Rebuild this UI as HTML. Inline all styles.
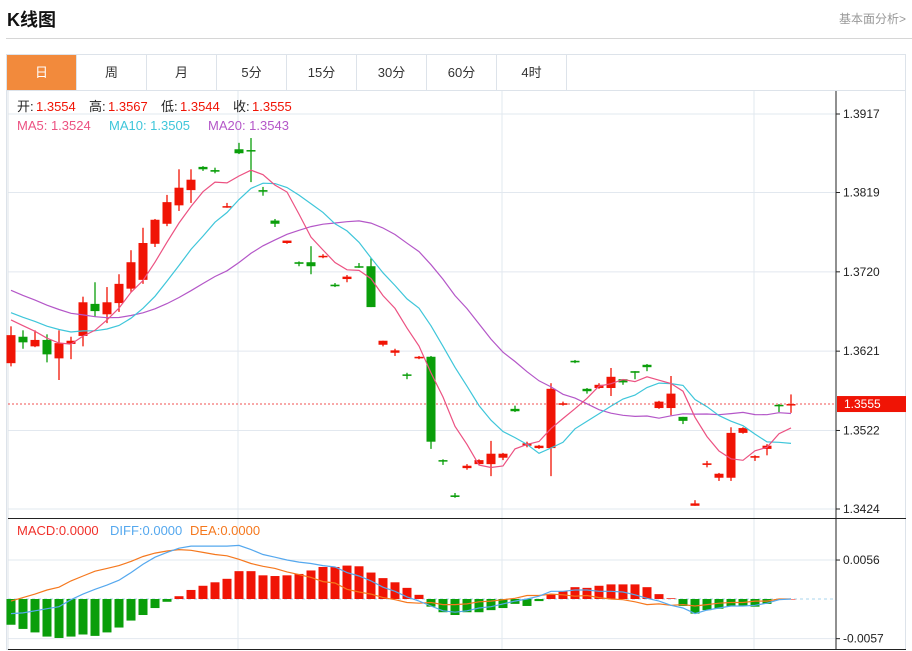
<!DOCTYPE html>
<html><head><meta charset="utf-8">
<style>
body{margin:0;width:912px;height:651px;background:#fff;overflow:hidden;font-family:"Liberation Sans","Noto Sans CJK SC",sans-serif;}
#title{position:absolute;left:7px;top:6px;font-size:18px;font-weight:bold;color:#111;}
#fund{position:absolute;right:6px;top:10px;font-size:12px;color:#999;}
#hline{position:absolute;left:6px;top:38px;width:906px;height:1px;background:#d6d6d6;}
.tab{position:absolute;top:55px;height:35px;line-height:35px;width:70px;text-align:center;font-size:13px;color:#333;border-right:1px solid #dde3ea;box-sizing:border-box;}
svg{position:absolute;left:0;top:0;}
</style></head><body>
<div id="title">K线图</div>
<div id="fund">基本面分析&gt;</div>
<div id="hline"></div>
<div style="position:absolute;left:6px;top:54px;width:900px;height:596px;border:1px solid #dde3ea;box-sizing:border-box;"></div>
<div class="tab" style="left:7px;background:#f28a3c;color:#fff;">日</div>
<div class="tab" style="left:77px;">周</div>
<div class="tab" style="left:147px;">月</div>
<div class="tab" style="left:217px;">5分</div>
<div class="tab" style="left:287px;">15分</div>
<div class="tab" style="left:357px;">30分</div>
<div class="tab" style="left:427px;">60分</div>
<div class="tab" style="left:497px;">4时</div>
<div style="position:absolute;left:6px;top:90px;width:900px;height:1px;background:#dde3ea;"></div>
<svg id="chart" width="912" height="651"></svg>
<script>
const opens =[13606,13639,13627,13635,13612,13630,13640,13680,13667,13681,13699,13710,13755,13780,13803,13822,13851,13847,13801,13873,13872,13822,13784,13756,13732,13732,13739,13704,13711,13727,13727,13629,13619,13592,13612,13614,13485,13441,13475,13480,13480,13488,13549,13503,13500,13500,13554,13609,13574,13575,13575,13586,13596,13604,13550,13550,13539,13428,13479,13463,13463,13519,13488,13499,13554,13554];
const closes=[13641,13632,13635,13617,13631,13634,13682,13671,13682,13705,13732,13756,13785,13807,13825,13835,13848,13845,13802,13868,13871,13820,13780,13759,13730,13727,13740,13702,13714,13726,13676,13634,13622,13591,13614,13508,13484,13439,13478,13485,13493,13493,13546,13506,13503,13574,13556,13607,13571,13579,13589,13582,13594,13601,13558,13568,13534,13431,13481,13468,13519,13525,13490,13503,13553,13555];
const highs =[13652,13647,13647,13642,13647,13639,13689,13707,13701,13717,13747,13775,13786,13816,13848,13848,13852,13850,13806,13881,13887,13826,13786,13759,13733,13752,13742,13706,13716,13731,13737,13634,13624,13594,13615,13615,13486,13444,13480,13486,13509,13494,13553,13508,13504,13581,13558,13610,13575,13581,13600,13586,13596,13605,13559,13590,13539,13435,13484,13469,13526,13526,13491,13505,13555,13567];
const lows  =[13602,13624,13626,13607,13585,13611,13627,13664,13656,13670,13695,13705,13751,13777,13796,13806,13846,13843,13800,13867,13832,13815,13776,13755,13727,13717,13737,13701,13707,13725,13676,13627,13615,13586,13611,13499,13479,13438,13473,13479,13465,13485,13545,13501,13499,13465,13553,13606,13568,13574,13565,13579,13586,13596,13549,13541,13530,13428,13476,13459,13459,13518,13484,13491,13545,13544];
const priorCloses=[13760,13752,13745,13738,13730,13722,13715,13708,13700,13680,13690,13685,13678,13672,13665,13668,13670,13660,13661];
const macdHist=[-37,-43,-48,-54,-56,-54,-51,-53,-48,-41,-31,-23,-13,-4,4,13,19,24,29,40,40,34,33,34,36,41,46,46,48,47,38,30,24,16,6,-11,-19,-23,-19,-19,-16,-13,-7,-10,-3,7,11,17,16,19,21,21,21,17,7,1,-10,-21,-16,-14,-10,-10,-11,-7,-1,0];
const diffVals=[-21,-20,-17,-14,-11,-1,7,14,20,27,38,50,60,67,73,76,76,76,76,77,71,64,60,56,53,51,48,46,38,33,26,17,11,3,-3,-10,-17,-19,-17,-13,-11,-7,-3,0,4,11,11,13,13,11,11,10,6,1,-3,-9,-13,-21,-16,-13,-10,-10,-9,-6,-1,0];
const deaVals=[-3,2,7,13,17,26,33,40,44,48,54,61,66,69,71,70,67,64,62,57,51,47,44,39,35,31,25,23,14,10,7,2,-1,-5,-6,-5,-8,-8,-7,-4,-3,-1,1,5,5,7,6,4,5,2,0,-1,-4,-8,-7,-9,-8,-10,-8,-6,-5,-5,-3,-3,0,0];
const priceTicks=[1.3917,1.3819,1.3720,1.3621,1.3522,1.3424];
const macdTicks=[0.0056,-0.0057];
const lastPrice=1.3555;

const NS='http://www.w3.org/2000/svg';
const svg=document.getElementById('chart');
const RED='#f01405',GREEN='#0a9e0a';
function mk(tag,attrs,parent){const e=document.createElementNS(NS,tag);for(const k in attrs)e.setAttribute(k,attrs[k]);(parent||svg).appendChild(e);return e;}
const P=v=>114+(1.3917-v)*8012;           // price axis
const Pp=p=>P(p/10000);
const M=v=>599-v*6960;                     // macd axis
const Mp=p=>M(p/10000);
const X=i=>11+i*12;
const AX=836;

// grids
priceTicks.forEach(t=>{mk('line',{x1:8,x2:AX,y1:P(t),y2:P(t),stroke:'#e2e8ef','stroke-width':1});});
macdTicks.forEach(t=>{mk('line',{x1:8,x2:AX,y1:M(t),y2:M(t),stroke:'#e2e8ef','stroke-width':1});});
[238,502,754].forEach(x=>mk('line',{x1:x,x2:x,y1:91,y2:649,stroke:'#e2e8ef','stroke-width':1}));
mk('line',{x1:8,x2:8,y1:91,y2:649,stroke:'#dde3ea'});
mk('line',{x1:8,x2:AX,y1:M(0),y2:M(0),stroke:'#a9d4ee','stroke-dasharray':'3,3'});
mk('line',{x1:AX,x2:AX,y1:91,y2:649,stroke:'#222','stroke-width':1});
mk('line',{x1:8,x2:906,y1:518.5,y2:518.5,stroke:'#222','stroke-width':1});
mk('line',{x1:8,x2:906,y1:649.5,y2:649.5,stroke:'#222','stroke-width':1});

// axis labels
priceTicks.forEach(t=>{
  mk('line',{x1:AX,x2:AX+4,y1:P(t),y2:P(t),stroke:'#222'});
  const tx=mk('text',{x:AX+7,y:P(t)+4,'font-size':12,fill:'#222','font-family':'Liberation Sans, sans-serif'});
  tx.textContent=t.toFixed(4);
  
  
});
macdTicks.forEach(t=>{
  mk('line',{x1:AX,x2:AX+4,y1:M(t),y2:M(t),stroke:'#222'});
  const tx=mk('text',{x:AX+7,y:M(t)+4,'font-size':12,fill:'#222','font-family':'Liberation Sans, sans-serif'});
  tx.textContent=t.toFixed(4);
  
  
});

// last price line
mk('line',{x1:8,x2:AX,y1:P(lastPrice),y2:P(lastPrice),stroke:'#f05050','stroke-dasharray':'2,2','stroke-width':1});
mk('rect',{x:AX+1,y:P(lastPrice)-8,width:69,height:16,fill:'#f01405'});
const lp=mk('text',{x:AX+8,y:P(lastPrice)+4,'font-size':12,fill:'#fff','font-family':'Liberation Sans, sans-serif'});
lp.textContent=lastPrice.toFixed(4);



// candles
for(let i=0;i<opens.length;i++){
  const up=closes[i]>=opens[i];const c=up?RED:GREEN;
  const g=mk('g',{});
  
  
  mk('line',{x1:X(i),x2:X(i),y1:Pp(highs[i]),y2:Pp(lows[i]),stroke:c,'stroke-width':1.3},g);
  const top=Pp(Math.max(opens[i],closes[i])),bot=Pp(Math.min(opens[i],closes[i]));
  mk('rect',{x:X(i)-4.5,y:top,width:9,height:Math.max(bot-top,1.5),fill:c},g);
}

// moving averages
const all=priorCloses.concat(closes);
function ma(n){const r=[];for(let i=0;i<closes.length;i++){let s=0;const j=i+priorCloses.length;for(let k=j-n+1;k<=j;k++)s+=all[k];r.push(s/n);}return r;}
function poly(vals,fy,color,name){
  const pts=vals.map((v,i)=>X(i)+','+fy(v).toFixed(1)).join(' ');
  const pl=mk('polyline',{points:pts,fill:'none',stroke:color,'stroke-width':1.2});
  
  
}
poly(ma(20),Pp,'#b457c8','ma20-line');
poly(ma(10),Pp,'#3fc6da','ma10-line');
poly(ma(5),Pp,'#ec5282','ma5-line');

// macd histogram
for(let i=0;i<macdHist.length;i++){
  const v=macdHist[i];const y0=Mp(0),y1=Mp(v);
  const r=mk('rect',{x:X(i)-4.5,y:Math.min(y0,y1),width:9,height:Math.max(Math.abs(y1-y0),0.5),fill:v>=0?RED:GREEN});
  
  
}
poly(deaVals,Mp,'#f5781e','dea-line');
poly(diffVals,Mp,'#55a8ee','diff-line');

// info texts
function txt(x,y,s,color,name){const t=mk('text',{x:x,y:y,'font-size':13,fill:color,'font-family':'Liberation Sans, Noto Sans CJK SC, sans-serif'});t.textContent=s;return t;}
const info=[['开:','1.3554'],['高:','1.3567'],['低:','1.3544'],['收:','1.3555']];
let ix=17;
info.forEach((p,k)=>{txt(ix,111,p[0],'#222','ohlc-label');txt(ix+19,111,p[1],'#f01405','ohlc-value');ix+=72;});
txt(17,130,'MA5: 1.3524','#ec5282','ma5-legend');
txt(109,130,'MA10: 1.3505','#3fc6da','ma10-legend');
txt(208,130,'MA20: 1.3543','#b457c8','ma20-legend');
txt(17,535,'MACD:0.0000','#f0302a','macd-legend');
txt(110,535,'DIFF:0.0000','#55a8ee','diff-legend');
txt(190,535,'DEA:0.0000','#f5781e','dea-legend');
</script>
</body></html>
